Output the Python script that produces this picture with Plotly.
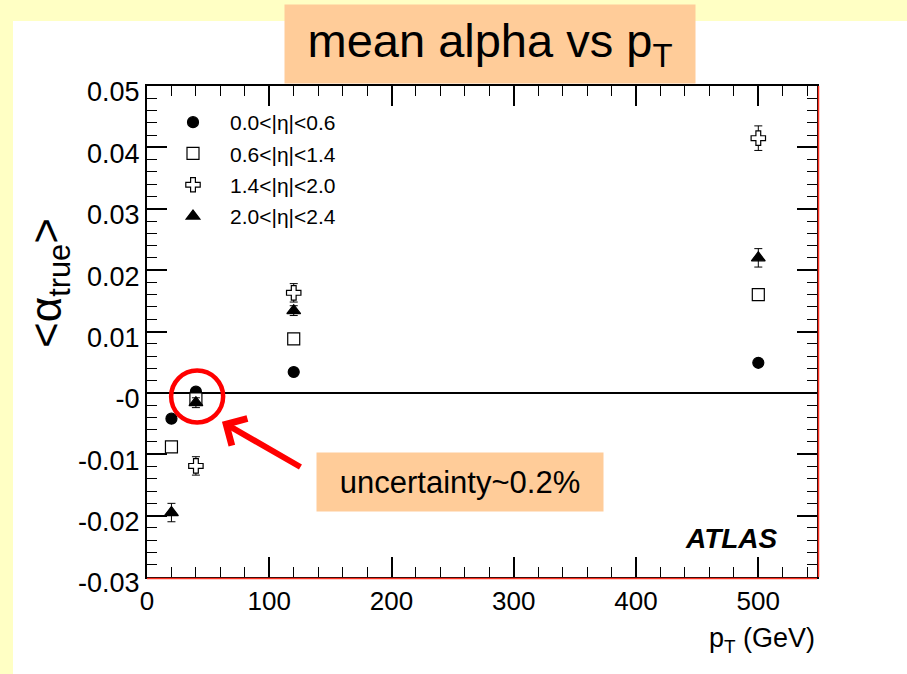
import plotly.graph_objects as go

# ---- data ----
pt = [20, 40, 120, 500]
pt_cross = [40, 120, 500]
alpha_eta1 = [-0.0042, 0.0002, 0.0034, 0.0049]
err_eta1 = [0.0003, 0.0003, 0.0003, 0.0003]
alpha_eta2 = [-0.0088, -0.0010, 0.0088, 0.0160]
err_eta2 = [0.0004, 0.0004, 0.0004, 0.0004]
alpha_eta3 = [-0.0119, 0.0163, 0.0415]
err_eta3 = [0.0015, 0.0015, 0.0020]
alpha_eta4 = [-0.0195, -0.0016, 0.0134, 0.0220]
err_eta4 = [0.0015, 0.0008, 0.0008, 0.0015]

labels = ["0.0&lt;|η|&lt;0.6", "0.6&lt;|η|&lt;1.4", "1.4&lt;|η|&lt;2.0", "2.0&lt;|η|&lt;2.4"]
ytick_vals = [-0.03, -0.02, -0.01, 0.0, 0.01, 0.02, 0.03, 0.04, 0.05]
ytick_text = ["-0.03", "-0.02", "-0.01", "-0", "0.01", "0.02", "0.03", "0.04", "0.05"]
xtick_vals = [0, 100, 200, 300, 400, 500]

FONT = "Liberation Sans, Arial, sans-serif"

fig = go.Figure()

def add(xs, ys, errs, name, symbol, size, fill, group):
    fig.add_trace(go.Scatter(
        x=xs, y=ys, mode="markers", name=name, legendgroup=group,
        marker=dict(symbol=symbol, size=size, color=fill,
                    line=dict(color="black", width=1.2)),
        error_y=dict(type="data", array=errs, visible=True,
                     color="black", thickness=1, width=4),
    ))

add(pt, alpha_eta1, err_eta1, labels[0], "circle", 11, "black", "g1")
add(pt, alpha_eta2, err_eta2, labels[1], "square", 12, "white", "g2")
add(pt_cross, alpha_eta3, err_eta3, labels[2], "cross", 12, "white", "g3")
add(pt, alpha_eta4, err_eta4, labels[3], "triangle-up", 12, "black", "g4")

L, R, T, B = 147, 817, 86, 577
W, H = 907, 674
pw, ph = R - L, B - T

def px(xp):
    return (xp - L) / pw

def py(yp):
    return (B - yp) / ph

shapes = [
    # yellow slide bands
    dict(type="rect", xref="paper", yref="paper", x0=px(0), x1=px(13), y0=py(H), y1=py(0),
         fillcolor="#FFFFC4", line=dict(width=0), layer="below"),
    dict(type="rect", xref="paper", yref="paper", x0=px(0), x1=px(W), y0=py(21), y1=py(0),
         fillcolor="#FFFFC4", line=dict(width=0), layer="below"),
    # red frame shadow lines
    dict(type="line", xref="paper", yref="paper", x0=0, x1=1, ysizemode="pixel", yanchor=0,
         y0=-1.5, y1=-1.5, line=dict(color="#FF3020", width=1.5)),
    dict(type="line", xref="paper", yref="paper", y0=0, y1=1, xsizemode="pixel", xanchor=1,
         x0=1.5, x1=1.5, line=dict(color="#FF3020", width=1.5)),
    # red highlight circle
    dict(type="circle", xref="x", yref="y", xsizemode="pixel", ysizemode="pixel",
         xanchor=41, yanchor=-0.0006, x0=-26, x1=26, y0=-26, y1=26,
         line=dict(color="#FF0000", width=4.5)),
]

annotations = [
    dict(text="mean alpha vs p<sub>T</sub>", xref="paper", yref="paper",
         x=px(490), y=py(44), xanchor="center", yanchor="middle", showarrow=False,
         width=410, height=78, bgcolor="#FFCC99", borderpad=0,
         font=dict(family=FONT, size=47, color="black")),
    dict(text="uncertainty~0.2%", xref="paper", yref="paper",
         x=px(460), y=py(482), xanchor="center", yanchor="middle", showarrow=False,
         width=286, height=58, bgcolor="#FFCC99", borderpad=0,
         font=dict(family=FONT, size=31, color="black")),
    dict(text="", xref="x", yref="y", x=61.3, y=-0.00472, ax=80, ay=46,
         showarrow=True, arrowhead=4, arrowsize=1, arrowwidth=6, arrowcolor="#FF0000"),
    dict(text="&lt;α<sub>true</sub>&gt;", xref="paper", yref="paper",
         x=px(49), y=py(283), xanchor="center", yanchor="middle", showarrow=False,
         textangle=-90, font=dict(family=FONT, size=44, color="black")),
    dict(text="p<sub>T</sub> (GeV)", xref="paper", yref="paper",
         x=1.0, y=py(640), xanchor="right", yanchor="middle", showarrow=False,
         font=dict(family=FONT, size=27, color="black")),
    dict(text="<b><i>ATLAS</i></b>", xref="paper", yref="paper",
         x=px(731), y=py(538), xanchor="center", yanchor="middle", showarrow=False,
         font=dict(family=FONT, size=28, color="black")),
]

fig.update_layout(
    width=W, height=H,
    margin=dict(l=L, r=W - R, t=T, b=H - B),
    paper_bgcolor="white", plot_bgcolor="white",
    font=dict(family=FONT, color="black"),
    showlegend=True,
    legend=dict(x=px(156), y=py(102), xanchor="left", yanchor="top",
                bgcolor="rgba(0,0,0,0)", borderwidth=0, itemwidth=64,
                font=dict(family=FONT, size=21, color="black"),
                traceorder="grouped", tracegroupgap=1),
    shapes=shapes, annotations=annotations,
)

fig.update_xaxes(
    range=[0, 548], showgrid=False, zeroline=False,
    showline=True, linecolor="black", linewidth=2, mirror="ticks",
    ticks="inside", ticklen=20, tickwidth=1.5, tickcolor="black",
    tickvals=xtick_vals, tickfont=dict(family=FONT, size=26, color="black"),
    minor=dict(dtick=20, ticks="inside", ticklen=10, tickcolor="black", tickwidth=1),
)
fig.update_yaxes(
    range=[-0.03, 0.05], showgrid=False,
    zeroline=True, zerolinecolor="black", zerolinewidth=2,
    showline=True, linecolor="black", linewidth=2, mirror="ticks",
    ticks="inside", ticklen=20, tickwidth=1.5, tickcolor="black",
    tickvals=ytick_vals, ticktext=ytick_text, ticklabelshift=6,
    tickfont=dict(family=FONT, size=27, color="black"),
    minor=dict(dtick=0.002, ticks="inside", ticklen=10, tickcolor="black", tickwidth=1),
)

fig.write_html("out.html")
